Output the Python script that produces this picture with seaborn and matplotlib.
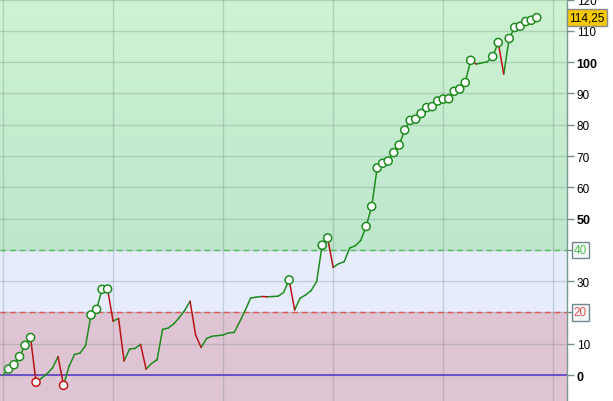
import numpy as np
import pandas as pd
import matplotlib
matplotlib.use("Agg")
import matplotlib.pyplot as plt
import seaborn as sns

# ---- data ----
equity = [0.0, 1.9, 3.3, 5.9, 9.5, 12.0, -2.3, -1.0, 0.4, 2.3,
          5.9, -3.3, 2.8, 6.6, 7.0, 9.4, 19.2, 21.0, 27.4, 27.5,
          17.2, 18.1, 4.5, 8.3, 8.5, 9.8, 1.9, 3.7, 4.9, 14.6,
          15.0, 16.3, 18.3, 20.6, 23.6, 12.8, 8.8, 11.7, 12.4, 12.6,
          12.8, 13.5, 13.6, 17.0, 20.6, 24.6, 24.9, 25.1, 25.0, 25.1,
          25.2, 26.4, 30.4, 20.8, 24.6, 25.6, 27.0, 29.9, 41.5, 43.8,
          34.4, 35.6, 36.2, 40.6, 41.3, 43.0, 47.5, 53.9, 66.2, 67.7,
          68.4, 71.1, 73.5, 78.3, 81.4, 81.8, 83.6, 85.5, 85.8, 87.6,
          88.2, 88.3, 90.7, 91.4, 93.5, 100.6, 99.4, 99.8, 100.1, 101.8,
          106.3, 96.2, 107.6, 111.1, 111.5, 113.0, 113.4, 114.25]
steps = list(range(len(equity)))
y_ticks = [0, 10, 20, 30, 40, 50, 60, 70, 80, 90, 100, 110, 120]
bold_ticks = [0, 50, 100]
upper_level = 40
lower_level = 20
last_label = "114,25"

# ---- build tables ----
seg_rows = []
for i in range(len(equity) - 1):
    d = "up" if equity[i + 1] >= equity[i] else "down"
    seg_rows.append({"seg": i, "step": steps[i], "value": equity[i], "dir": d})
    seg_rows.append({"seg": i, "step": steps[i + 1], "value": equity[i + 1], "dir": d})
segs = pd.DataFrame(seg_rows)

mk_rows = []
run_max, run_min = equity[0], equity[0]
for s, v in zip(steps[1:], equity[1:]):
    if v > run_max:
        run_max = v
        mk_rows.append({"step": s, "value": v, "kind": "high"})
    elif v < run_min:
        run_min = v
        mk_rows.append({"step": s, "value": v, "kind": "low"})
marks = pd.DataFrame(mk_rows)

# ---- figure ----
sns.set_theme(style="white")
plt.rcParams["font.family"] = ["Liberation Sans", "DejaVu Sans"]
fig = plt.figure(figsize=(6.13, 4.02), dpi=100)
fig.patch.set_facecolor("white")
ax = fig.add_axes([0, 0, 567 / 613, 1])

ymin, ymax = -8.3, 120.2
xmin, xmax = -0.55, 102.5
ax.set_xlim(xmin, xmax)
ax.set_ylim(ymin, ymax)

# background bands
grad = np.linspace(0, 1, 256).reshape(-1, 1)
top_c = np.array([206, 242, 210]) / 255
bot_c = np.array([190, 231, 206]) / 255
img = top_c[None, None, :] * (1 - grad[:, :, None]) + bot_c[None, None, :] * grad[:, :, None]
ax.imshow(img, extent=[xmin, xmax, upper_level, ymax], aspect="auto", origin="upper", zorder=0)
ax.axhspan(lower_level, upper_level, color="#e6ecfc", zorder=0, lw=0)
ax.axhspan(ymin, lower_level, color="#dfc4d4", zorder=0, lw=0)

# grid
for t in y_ticks:
    ax.axhline(t, color="#4a6a5a", alpha=0.22, lw=1, zorder=1)
for xv in [0, 20, 40, 60, 80, 100]:
    ax.axvline(xv, color="#4a6a5a", alpha=0.22, lw=1, zorder=1)

ax.axhline(upper_level, color="#50c050", lw=1, ls=(0, (4, 3)), zorder=2)
ax.axhline(lower_level, color="#e05555", lw=1, ls=(0, (4, 3)), zorder=2)
ax.axhline(0, color="#5b3fc6", lw=1.2, zorder=2)

sns.lineplot(data=segs, x="step", y="value", hue="dir", units="seg", estimator=None,
             palette={"up": "#1e8c1e", "down": "#b81414"}, lw=1.1, ax=ax,
             legend=False, zorder=3)
sns.scatterplot(data=marks, x="step", y="value", hue="kind",
                palette={"high": "#1e8c1e", "low": "#c01818"}, ax=ax, legend=False,
                s=34, zorder=4, linewidth=1.1)
# make marker faces white with coloured edges
coll = ax.collections[-1]
ec = coll.get_facecolors()
coll.set_edgecolors(ec)
coll.set_facecolors("white")

# axes styling
ax.set_xlabel("")
ax.set_ylabel("")
ax.set_xticks([])
ax.yaxis.tick_right()
ax.set_yticks(y_ticks)
labels = []
for t in y_ticks:
    labels.append("" if t in (upper_level, lower_level) else str(t))
ax.set_yticklabels(labels)
ax.tick_params(axis="y", length=5, width=1, color="#7a8a88", pad=2, labelsize=8.5,
               labelcolor="black")
for t, lab in zip(y_ticks, ax.get_yticklabels()):
    if t in bold_ticks:
        lab.set_fontweight("bold")
        lab.set_fontsize(9)
for sp in ["top", "left", "bottom"]:
    ax.spines[sp].set_visible(False)
ax.spines["right"].set_color("#7a9a90")
ax.spines["right"].set_linewidth(1)

trans = ax.get_yaxis_transform()
ax.text(1.012, upper_level, "40", transform=trans, color="#4cc04c", fontsize=8.5,
        va="center", ha="left", clip_on=False,
        bbox=dict(boxstyle="square,pad=0.18", fc="#f4f6f8", ec="#708890", lw=1))
ax.text(1.012, lower_level, "20", transform=trans, color="#e05050", fontsize=8.5,
        va="center", ha="left", clip_on=False,
        bbox=dict(boxstyle="square,pad=0.18", fc="#f4f6f8", ec="#708890", lw=1))
ax.text(1.004, equity[-1], last_label, transform=trans, color="black", fontsize=8.5,
        va="center", ha="left", clip_on=False,
        bbox=dict(boxstyle="square,pad=0.18", fc="#f5c800", ec="#8a8a8a", lw=1))

fig.savefig("out.png", dpi=100)
